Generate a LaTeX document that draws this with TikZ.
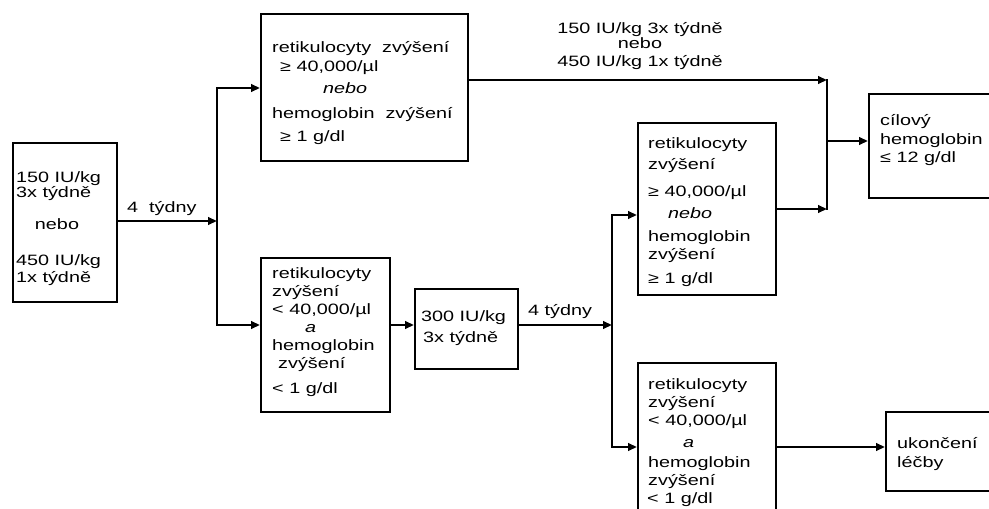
\documentclass[tikz,border=0pt]{standalone}
\usepackage{fontspec}
\setmainfont[FakeStretch=1.32]{Liberation Sans}
\usetikzlibrary{arrows.meta}
\begin{document}
\begin{tikzpicture}[x=1pt,y=-1pt,
  box/.style={draw, line width=1.9pt, anchor=north west, inner sep=0pt},
  txt/.style={anchor=base west, inner sep=0pt, font=\fontsize{15pt}{18pt}\selectfont},
  txtc/.style={txt, anchor=base},
  conn/.style={line width=2.9pt, line cap=rect},
  arr/.style={line width=2.9pt, -{Triangle[length=9pt,width=7.5pt]}}]
\useasboundingbox (0,0) rectangle (989,509);
\clip (0,0) rectangle (989,509);
\fill[white] (0,0) rectangle (989,509);
% boxes
\node[box, minimum width=104pt, minimum height=159pt] (A) at (12,142) {};
\node[box, minimum width=207pt, minimum height=147pt] (B) at (260,13) {};
\node[box, minimum width=129pt, minimum height=154pt] (C) at (260,257) {};
\node[box, minimum width=103pt, minimum height=80pt] (D) at (414,288) {};
\node[box, minimum width=138pt, minimum height=172pt] (E) at (637,122) {};
\node[box, minimum width=138pt, minimum height=160pt] (F) at (637,362) {};
\node[box, minimum width=120pt, minimum height=79pt] (G) at (885,411) {};
\node[box, minimum width=135pt, minimum height=104pt] (H) at (868,93) {};
% box A text
\node[txt] (a1) at (16,182) {150 IU/kg};
\node[txt] (a2) at (16,197) {3x týdně};
\node[txtc] (a3) at (57,229) {nebo};
\node[txt] (a4) at (16,265) {450 IU/kg};
\node[txt] (a5) at (16,282) {1x týdně};
% box B text
\node[txt] (b1) at (272,52) {retikulocyty\ \ zvýšení};
\node[txt] (b2) at (280,71) {≥ 40,000/µl};
\node[txt] (b3) at (323,93) {\itshape nebo};
\node[txt] (b4) at (272,118) {hemoglobin\ \ zvýšení};
\node[txt] (b5) at (280,141) {≥ 1 g/dl};
% box C text
\node[txt] (c1) at (272,278) {retikulocyty};
\node[txt] (c2) at (272,296) {zvýšení};
\node[txt] (c3) at (272,314) {< 40,000/µl};
\node[txt] (c4) at (305,332) {\itshape a};
\node[txt] (c5) at (272,350) {hemoglobin};
\node[txt] (c6) at (278,368) {zvýšení};
\node[txt] (c7) at (272,393) {< 1 g/dl};
% box D text
\node[txt] (d1) at (421,321) {300 IU/kg};
\node[txt] (d2) at (423,342) {3x týdně};
% box E text
\node[txt] (e1) at (648,148) {retikulocyty};
\node[txt] (e2) at (648,169) {zvýšení};
\node[txt] (e3) at (648,196) {≥ 40,000/µl};
\node[txt] (e4) at (668,218) {\itshape nebo};
\node[txt] (e5) at (648,241) {hemoglobin};
\node[txt] (e6) at (648,259) {zvýšení};
\node[txt] (e7) at (648,283) {≥ 1 g/dl};
% box F text
\node[txt] (f1) at (648,389) {retikulocyty};
\node[txt] (f2) at (648,407) {zvýšení};
\node[txt] (f3) at (648,425) {< 40,000/µl};
\node[txt] (f4) at (683,447) {\itshape a};
\node[txt] (f5) at (648,467) {hemoglobin};
\node[txt] (f6) at (648,485) {zvýšení};
\node[txt] (f7) at (647,503) {< 1 g/dl};
% box G text
\node[txt] (g1) at (897,448) {ukončení};
\node[txt] (g2) at (897,467) {léčby};
% box H text
\node[txt] (h1) at (880,125) {cílový};
\node[txt] (h2) at (880,144) {hemoglobin};
\node[txt] (h3) at (880,162) {≤ 12 g/dl};
% labels
\node[txt] (l1) at (127,212) {4\ \ týdny};
\node[txt] (l2) at (528,315) {4\ týdny};
\node[txtc] (t1) at (640,33) {150 IU/kg 3x týdně};
\node[txtc] (t2) at (640,48) {nebo};
\node[txtc] (t3) at (640,66) {450 IU/kg 1x týdně};
% connectors
\coordinate (j1t) at (217,88);
\coordinate (j1m) at (217,221);
\coordinate (j1b) at (217,325);
\coordinate (j2t) at (612,215);
\coordinate (j2m) at (612,325);
\coordinate (j2b) at (612,447);
\coordinate (j3t) at (827,80);
\coordinate (j3m) at (827,141);
\coordinate (j3b) at (827,209);
\draw[arr] (A.east |- j1m) -- (j1m);
\draw[conn] (j1t) -- (j1b);
\draw[arr] (j1t) -- (j1t -| B.west);
\draw[arr] (j1b) -- (j1b -| C.west);
\draw[arr] (j1b -| C.east) -- (j1b -| D.west);
\draw[arr] (j2m -| D.east) -- (j2m);
\draw[conn] (j2t) -- (j2b);
\draw[arr] (j2t) -- (j2t -| E.west);
\draw[arr] (j2b) -- (j2b -| F.west);
\draw[arr] (j2b -| F.east) -- (j2b -| G.west);
\draw[arr] (j3t -| B.east) -- (j3t);
\draw[arr] (j3b -| E.east) -- (j3b);
\draw[conn] (j3t) -- (j3b);
\draw[arr] (j3m) -- (j3m -| H.west);
\end{tikzpicture}
\end{document}
